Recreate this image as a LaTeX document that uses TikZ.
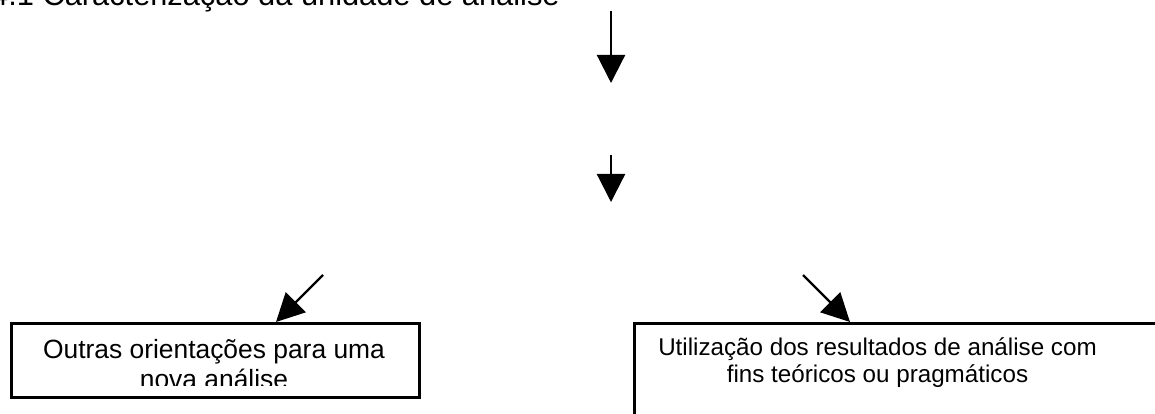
\documentclass[tikz,border=0pt]{standalone}
\usepackage{fontspec}
\setmainfont{Liberation Sans}
\usetikzlibrary{arrows.meta,calc}

\tikzset{
  flow/.style={line width=2.2pt, -{Triangle[length=28pt,width=28pt]}},
  box/.style={draw, line width=2.6pt, rectangle, inner sep=0pt},
  txt/.style={anchor=base, inner sep=0pt},
}

\begin{document}
\begin{tikzpicture}[x=1pt,y=-1pt]
  \useasboundingbox (0,0) rectangle (1155,414);
  \clip (0,0) rectangle (1155,414);

  % heading, partly above the page edge
  \node[anchor=base west, inner sep=0pt, font=\fontsize{30.8}{37}\selectfont] (title) at (-9,6)
    {4.1 Caracterização da unidade de análise};

  % vertical flow arrows
  \coordinate (a1s) at (611,11);
  \coordinate (a1e) at (611,83);
  \coordinate (a2s) at (611,155);
  \coordinate (a2e) at (611,202);
  \draw[flow] (a1s) -- (a1e);
  \draw[flow] (a2s) -- (a2e);

  % result boxes
  \node[box, anchor=north west, minimum width=408pt, minimum height=74pt] (lbox) at (10,322) {};
  \node[box, anchor=north west, minimum width=600pt, minimum height=150pt] (rbox) at (633,322) {};

  % branch arrows
  \coordinate (ls) at (323,275);
  \coordinate (rs) at (803,275);
  \draw[flow] (ls) -- ($(lbox.north west)+(266,0)$);
  \draw[flow] (rs) -- ($(rbox.north west)+(217,0)$);

  % text of the left box, cut off inside the frame
  \node[txt, font=\fontsize{26.4}{31}\selectfont] (l1) at (214,358) {Outras orientações para uma};
  \begin{scope}
    \clip (12,324) rectangle (416,385);
    \node[txt, font=\fontsize{26.4}{31}\selectfont] (l2) at (214,388.5) {nova análise};
  \end{scope}

  % text of the right box
  \node[txt, font=\fontsize{24.2}{28}\selectfont] (r1) at (877.5,355) {Utilização dos resultados de análise com};
  \node[txt, font=\fontsize{24.2}{28}\selectfont] (r2) at (877.5,382.5) {fins teóricos ou pragmáticos};
\end{tikzpicture}
\end{document}
